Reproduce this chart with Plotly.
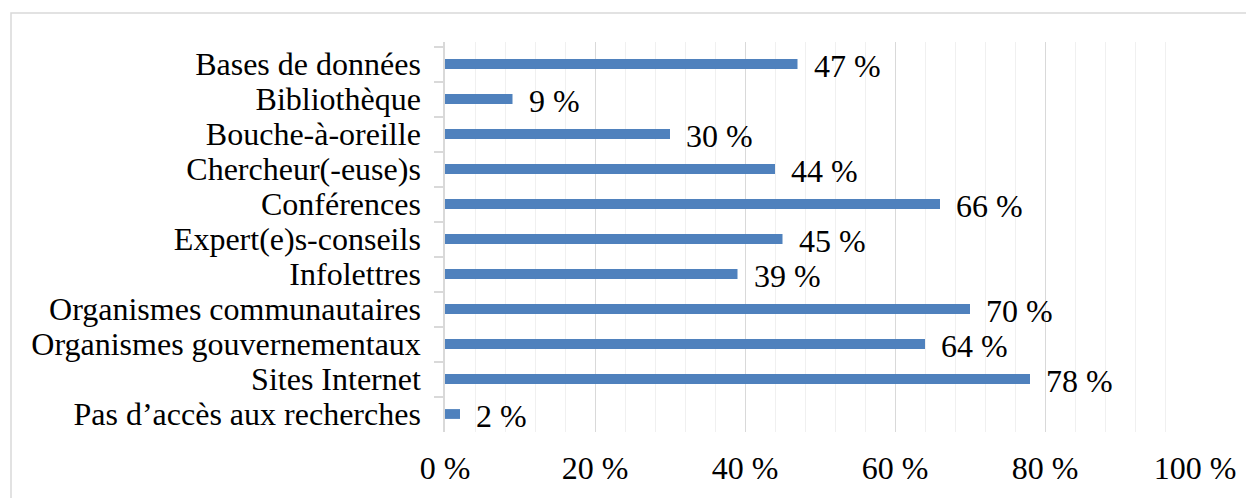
import plotly.graph_objects as go

categories = [
    "Bases de données",
    "Bibliothèque",
    "Bouche-à-oreille",
    "Chercheur(-euse)s",
    "Conférences",
    "Expert(e)s-conseils",
    "Infolettres",
    "Organismes communautaires",
    "Organismes gouvernementaux",
    "Sites Internet",
    "Pas d’accès aux recherches",
]
values = [47, 9, 30, 44, 66, 45, 39, 70, 64, 78, 2]
x_ticks = [0, 20, 40, 60, 80, 100]
x_tick_labels = [f"{v} %" for v in x_ticks]

FONT = "Liberation Serif"
BAR_COLOR = "#4F81BD"

# page offset of the figure div (default body margin)
OFF = 8
W, H = 1254, 498
L, R, T, B = 445 - OFF, 1254 - (1195 - OFF), 42 - OFF, 498 - (432 - OFF)
pw, ph = W - L - R, H - T - B

fig = go.Figure()
fig.add_trace(go.Bar(
    x=values,
    y=categories,
    orientation="h",
    marker=dict(color=BAR_COLOR, line=dict(width=0)),
    hoverinfo="skip",
))

annotations = []
for c, v in zip(categories, values):
    annotations.append(dict(
        x=v, y=c, xref="x", yref="y",
        text=f"{v} %", showarrow=False,
        xanchor="left", yanchor="middle",
        xshift=14, yshift=-2,
        font=dict(family=FONT, size=32, color="#000000"),
    ))

def px_to_paper_x(px):
    return (px - OFF - L) / pw

def px_to_paper_y(py):
    return (H - B - (py - OFF)) / ph

fig.update_layout(
    width=W, height=H,
    margin=dict(l=L, r=R, t=T, b=B, autoexpand=False),
    paper_bgcolor="white",
    plot_bgcolor="white",
    bargap=0.72,
    showlegend=False,
    font=dict(family=FONT, size=32, color="#000000"),
    annotations=annotations,
    shapes=[dict(
        type="rect", xref="paper", yref="paper",
        x0=px_to_paper_x(11), x1=px_to_paper_x(1270),
        y0=px_to_paper_y(515), y1=px_to_paper_y(13),
        line=dict(color="#d9d9d9", width=1.5),
        fillcolor="rgba(0,0,0,0)",
        layer="below",
    )],
)

fig.update_xaxes(
    range=[0, 100],
    tickvals=x_ticks,
    ticktext=x_tick_labels,
    showgrid=True,
    gridcolor="#d9d9d9",
    gridwidth=1,
    minor=dict(dtick=4, showgrid=True, gridcolor="#f0f0f0", gridwidth=1),
    zeroline=False,
    showline=False,
    ticks="",
    ticklabelstandoff=14,
    tickfont=dict(family=FONT, size=32, color="#000000"),
    fixedrange=True,
)
fig.update_yaxes(
    autorange="reversed",
    type="category",
    tickmode="linear",
    dtick=1,
    showline=True,
    linecolor="#d9d9d9",
    linewidth=1.5,
    ticks="outside",
    tickson="boundaries",
    ticklen=9,
    tickcolor="#d9d9d9",
    tickwidth=1.5,
    ticklabelstandoff=16,
    showgrid=False,
    tickfont=dict(family=FONT, size=32, color="#000000"),
    fixedrange=True,
)

fig.write_html("out.html")
